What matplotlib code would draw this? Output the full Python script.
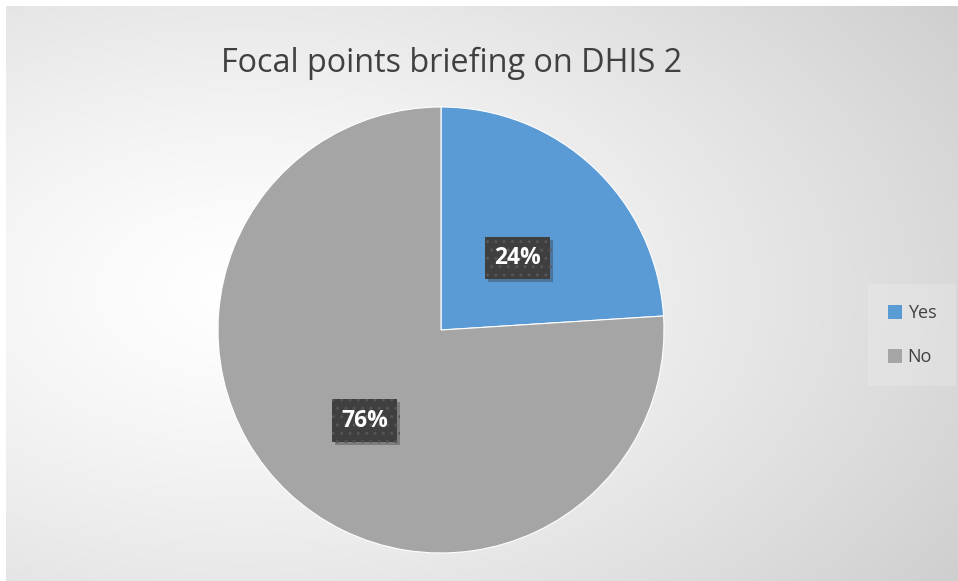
import numpy as np
import matplotlib
matplotlib.use("Agg")
import matplotlib.pyplot as plt
import matplotlib.patheffects as pe
from matplotlib.patches import Patch

categories = ["Yes", "No"]
values = [24, 76]
colors = ["#5B9BD5", "#A5A5A5"]
title = "Focal points briefing on DHIS 2"

W, H = 958, 581
fig = plt.figure(figsize=(W / 100, H / 100), dpi=100)
fig.patch.set_facecolor("white")

# background radial gradient (chart area)
bg = fig.add_axes([6 / W, 0, (W - 6) / W, (H - 6) / H])
yy, xx = np.mgrid[0:300, 0:500]
cx, cy = 250 * (480 - 6) / (W - 6), 300 * (290 - 6) / (H - 6)
d = np.sqrt(((xx - cx) / 500) ** 2 + ((yy - cy) / 300) ** 2)
d = d / d.max()
g = 1.0 - 0.19 * np.clip(d, 0, 1) ** 1.3
bg.imshow(np.dstack([g, g, g]), aspect="auto", extent=[0, 1, 0, 1], interpolation="bilinear")
bg.set_axis_off()

plt.rcParams["font.family"] = ["Open Sans", "DejaVu Sans"]

r = 223
cxp, cyp = 441, 330
ax = fig.add_axes([(cxp - r) / W, (H - cyp - r) / H, 2 * r / W, 2 * r / H])
wedges, texts, autotexts = ax.pie(
    values, colors=colors, startangle=90, counterclock=False,
    autopct="%d%%", pctdistance=0.5,
    wedgeprops=dict(edgecolor="white", linewidth=0.8),
    textprops=dict(color="white", fontsize=16.5, fontweight="bold"),
)
ax.set_xlim(-1, 1)
ax.set_ylim(-1, 1)
ax.set_aspect("equal")
for t in autotexts:
    x, y = t.get_position()
    t.set_position((x, y - 0.042))
    t.set_bbox(dict(boxstyle="square,pad=0.4", facecolor="#3f3f3f",
                    edgecolor="#555555", linewidth=0, hatch=".."))
    t.get_bbox_patch().set_path_effects(
        [pe.SimplePatchShadow(offset=(2, -2), shadow_rgbFace="#303030", alpha=0.35), pe.Normal()])

fig.text(452 / W, 1 - 63 / H, title, ha="center", va="center", fontsize=23.3, color="#404040")

handles = [Patch(facecolor=c, edgecolor="none") for c in colors]
leg = fig.legend(handles, categories, loc="center", bbox_to_anchor=(912 / W, 1 - 335 / H),
                 frameon=True, fontsize=13, handlelength=0.8, handleheight=0.8,
                 handletextpad=0.3, labelspacing=1.45, borderpad=0.8)
leg.get_frame().set_facecolor("#f0f0f0")
leg.get_frame().set_edgecolor("none")
leg.get_frame().set_alpha(0.3)
leg.get_frame().set_boxstyle("square")
for t in leg.get_texts():
    t.set_color("#404040")

fig.savefig("out.png", dpi=100)
